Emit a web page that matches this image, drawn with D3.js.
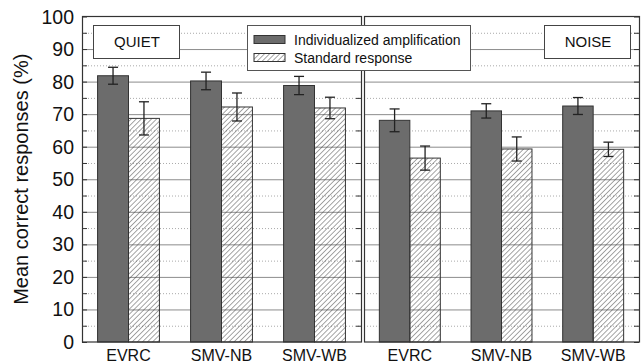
<!DOCTYPE html>
<meta charset="utf-8">
<style>
body { margin: 0; background: #fff; }
svg { font-family: Arial, "Liberation Sans", sans-serif; }
.grid-major { stroke: #8c8c8c; stroke-width: 1px; }
.grid-minor { stroke: #aaa; stroke-width: 1px; stroke-dasharray: 1,2; }
.frame { fill: none; stroke: #333; stroke-width: 1.2px; }
.err { stroke: #222; stroke-width: 1.3px; }
</style>
<div id="chart"></div>
<script src="https://d3js.org/d3.v7.min.js"></script>
<script>

// data
var codecs = ["EVRC", "SMV-NB", "SMV-WB"];
var conditions = ["QUIET", "NOISE"];
var seriesNames = ["Individualized amplification", "Standard response"];

var quietIndiv = [81.8, 80.2, 78.8];
var quietIndivErr = [2.6, 2.7, 2.8];
var quietStd = [68.7, 72.2, 71.9];
var quietStdErr = [5.1, 4.3, 3.3];

var noiseIndiv = [68.1, 71.0, 72.5];
var noiseIndivErr = [3.5, 2.2, 2.6];
var noiseStd = [56.5, 59.3, 59.2];
var noiseStdErr = [3.7, 3.7, 2.2];

var yTicks = [0, 10, 20, 30, 40, 50, 60, 70, 80, 90, 100];
var yMinor = [5, 15, 25, 35, 45, 55, 65, 75, 85, 95];

var width = 641, height = 364;

var svg = d3.select("#chart").append("svg")
  .attr("width", width)
  .attr("height", height);

// hatch pattern for the standard response bars
var defs = svg.append("defs");
defs.append("pattern")
  .attr("id", "hatch")
  .attr("patternUnits", "userSpaceOnUse")
  .attr("width", 3.6)
  .attr("height", 3.6)
  .attr("patternTransform", "rotate(45)")
  .append("line")
  .attr("x1", 0).attr("y1", 0)
  .attr("x2", 0).attr("y2", 3.6)
  .attr("stroke", "#3a3a3a")
  .attr("stroke-width", 0.9);

var y = d3.scaleLinear().domain([0, 100]).range([342, 16.5]);

var panels = [
  { name: conditions[0], x0: 82, x1: 361, indiv: quietIndiv, indivErr: quietIndivErr, std: quietStd, stdErr: quietStdErr },
  { name: conditions[1], x0: 364, x1: 639, indiv: noiseIndiv, indivErr: noiseIndivErr, std: noiseStd, stdErr: noiseStdErr }
];

panels.forEach(function(p, pi) {
  var x = d3.scaleBand()
    .domain(codecs)
    .range([p.x0, p.x1])
    .paddingInner(0.335)
    .paddingOuter(0.1675);
  var xs = d3.scaleBand()
    .domain(seriesNames)
    .range([0, x.bandwidth()]);

  var g = svg.append("g");

  // grid
  g.selectAll(".grid-minor")
    .data(yMinor)
    .enter().append("line")
    .attr("class", "grid-minor")
    .attr("x1", p.x0).attr("x2", p.x1)
    .attr("y1", function(d) { return y(d) + 0.5; })
    .attr("y2", function(d) { return y(d) + 0.5; });
  g.selectAll(".grid-major")
    .data(yTicks.slice(1, -1))
    .enter().append("line")
    .attr("class", "grid-major")
    .attr("x1", p.x0).attr("x2", p.x1)
    .attr("y1", function(d) { return y(d) + 0.5; })
    .attr("y2", function(d) { return y(d) + 0.5; });

  // inward ticks on the outer side
  var tickAxis = pi === 0
    ? d3.axisLeft(y).tickValues(yMinor.concat(yTicks)).tickSize(-5).tickFormat("")
    : d3.axisRight(y).tickValues(yMinor.concat(yTicks)).tickSize(-5).tickFormat("");
  var ta = g.append("g")
    .attr("transform", "translate(" + (pi === 0 ? p.x0 : p.x1) + ",0)")
    .call(tickAxis);
  ta.select(".domain").remove();
  ta.selectAll("line").attr("stroke", "#333");
  if (pi === 0) {
    var ta2 = g.append("g")
      .attr("transform", "translate(" + p.x1 + ",0)")
      .call(d3.axisRight(y).tickValues(yMinor).tickSize(-5).tickFormat(""));
    ta2.select(".domain").remove();
    ta2.selectAll("line").attr("stroke", "#333");
  }

  var rows = codecs.map(function(c, i) {
    return [
      { codec: c, s: seriesNames[0], v: p.indiv[i], e: p.indivErr[i] },
      { codec: c, s: seriesNames[1], v: p.std[i], e: p.stdErr[i] }
    ];
  });
  var flat = [].concat.apply([], rows);

  g.selectAll(".bar")
    .data(flat)
    .enter().append("rect")
    .attr("class", "bar")
    .attr("x", function(d) { return x(d.codec) + xs(d.s); })
    .attr("width", xs.bandwidth())
    .attr("y", function(d) { return y(d.v); })
    .attr("height", function(d) { return y(0) - y(d.v); })
    .attr("fill", function(d) { return d.s === seriesNames[0] ? "#6c6c6c" : "url(#hatch)"; })
    .attr("stroke", "#333")
    .attr("stroke-width", 1);

  // error bars
  var eb = g.selectAll(".eb")
    .data(flat)
    .enter().append("g")
    .attr("class", "eb")
    .attr("transform", function(d) { return "translate(" + (x(d.codec) + xs(d.s) + xs.bandwidth() / 2) + ",0)"; });
  eb.append("line").attr("class", "err")
    .attr("y1", function(d) { return y(d.v + d.e); })
    .attr("y2", function(d) { return y(d.v - d.e); });
  eb.append("line").attr("class", "err")
    .attr("x1", -5).attr("x2", 5)
    .attr("y1", function(d) { return y(d.v + d.e); })
    .attr("y2", function(d) { return y(d.v + d.e); });
  eb.append("line").attr("class", "err")
    .attr("x1", -5).attr("x2", 5)
    .attr("y1", function(d) { return y(d.v - d.e); })
    .attr("y2", function(d) { return y(d.v - d.e); });

  // frame
  g.append("rect")
    .attr("class", "frame")
    .attr("x", p.x0 + 0.5)
    .attr("y", y(100))
    .attr("width", p.x1 - p.x0)
    .attr("height", y(0) - y(100));

  // category labels
  g.selectAll(".xlab")
    .data(codecs)
    .enter().append("text")
    .attr("x", function(d) { return x(d) + x.bandwidth() / 2; })
    .attr("y", 361)
    .attr("text-anchor", "middle")
    .style("font-size", "16px")
    .attr("fill", "#111")
    .text(function(d) { return d; });

  // condition box
  var bx = pi === 0 ? 93 : 544;
  g.append("rect")
    .attr("x", bx + 0.5).attr("y", 25.5)
    .attr("width", 86).attr("height", 33)
    .attr("fill", "#fff").attr("stroke", "#444");
  g.append("text")
    .attr("x", bx + 44).attr("y", 47)
    .attr("text-anchor", "middle")
    .style("font-size", "15px")
    .attr("fill", "#111")
    .text(p.name);
});

// y axis labels
svg.append("g")
  .selectAll("text")
  .data(yTicks)
  .enter().append("text")
  .attr("x", 74)
  .attr("y", function(d) { return y(d); })
  .attr("dy", "0.36em")
  .attr("text-anchor", "end")
  .style("font-size", "19.5px")
  .attr("fill", "#111")
  .text(function(d) { return d; });

svg.append("text")
  .attr("transform", "translate(28," + y(50) + ") rotate(-90)")
  .attr("text-anchor", "middle")
  .style("font-size", "20px")
  .attr("fill", "#111")
  .text("Mean correct responses (%)");

// legend
var legend = svg.append("g").attr("transform", "translate(247,25)");
legend.append("rect")
  .attr("x", 0.5).attr("y", 0.5)
  .attr("width", 223).attr("height", 45)
  .attr("fill", "#fff").attr("stroke", "#555");
var li = legend.selectAll(".li")
  .data(seriesNames)
  .enter().append("g")
  .attr("transform", function(d, i) { return "translate(7," + (10.5 + i * 18) + ")"; });
li.append("rect")
  .attr("width", 31).attr("height", 8)
  .attr("fill", function(d, i) { return i === 0 ? "#6c6c6c" : "url(#hatch)"; })
  .attr("stroke", "#333");
li.append("text")
  .attr("x", 40).attr("y", 4)
  .attr("dy", "0.36em")
  .style("font-size", "14px")
  .attr("fill", "#111")
  .text(function(d) { return d; });

</script>
